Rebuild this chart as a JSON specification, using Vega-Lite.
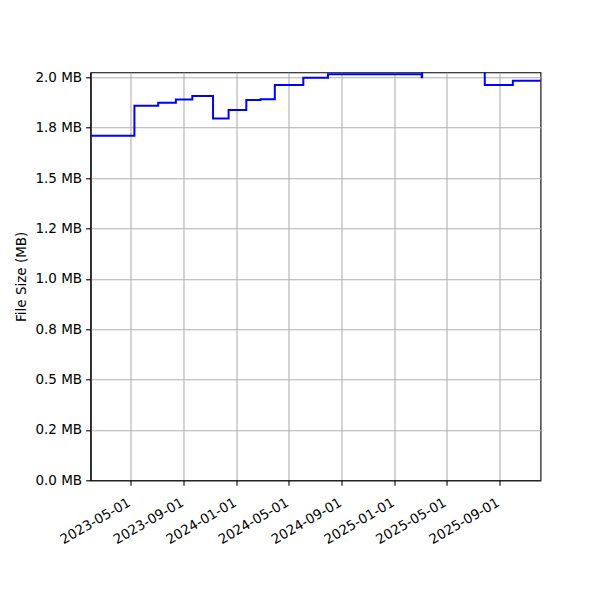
{
  "$schema": "https://vega.github.io/schema/vega-lite/v6.json",
  "autosize": {"type": "none"},
  "padding": {"left": 90.5, "top": 72.3, "right": 59.5, "bottom": 119.7},
  "width": 450,
  "height": 408,
  "background": "white",
  "config": {
    "view": {"stroke": "black", "strokeWidth": 1.1},
    "font": "DejaVu Sans",
    "axis": {
      "labelFont": "DejaVu Sans",
      "titleFont": "DejaVu Sans",
      "labelFontSize": 13.5,
      "titleFontSize": 13.5,
      "titleFontWeight": "normal",
      "labelColor": "black",
      "titleColor": "black",
      "tickColor": "black",
      "tickWidth": 1.1,
      "tickSize": 4.9,
      "labelPadding": 4,
      "domainColor": "black",
      "domainWidth": 1.1,
      "gridColor": "#b0b0b0",
      "gridWidth": 1.1,
      "gridOpacity": 1
    }
  },
  "data": {
    "values": [
      {"date": "2023-01-15", "size": 1.710},
      {"date": "2023-05-10", "size": 1.859},
      {"date": "2023-07-04", "size": 1.874},
      {"date": "2023-08-14", "size": 1.890},
      {"date": "2023-09-21", "size": 1.907},
      {"date": "2023-11-08", "size": 1.796},
      {"date": "2023-12-14", "size": 1.838},
      {"date": "2024-01-24", "size": 1.887},
      {"date": "2024-02-26", "size": 1.891},
      {"date": "2024-03-30", "size": 1.962},
      {"date": "2024-06-04", "size": 1.998},
      {"date": "2024-07-31", "size": 2.015},
      {"date": "2025-03-05", "size": 2.000},
      {"date": "2025-03-06", "size": 2.100},
      {"date": "2025-07-29", "size": 1.962},
      {"date": "2025-10-02", "size": 1.983},
      {"date": "2025-12-20", "size": 1.983}
    ]
  },
  "mark": {"type": "line", "interpolate": "step-after", "color": "#0000ff", "strokeWidth": 2, "clip": true},
  "encoding": {
    "x": {
      "field": "date",
      "type": "temporal",
      "scale": {
        "type": "utc",
        "domain": [
          {"year": 2023, "month": 1, "date": 28, "hours": 8, "utc": true},
          {"year": 2025, "month": 12, "date": 5, "utc": true}
        ]
      },
      "axis": {
        "title": null,
        "values": [
          {"year": 2023, "month": 5, "date": 1, "utc": true},
          {"year": 2023, "month": 9, "date": 1, "utc": true},
          {"year": 2024, "month": 1, "date": 1, "utc": true},
          {"year": 2024, "month": 5, "date": 1, "utc": true},
          {"year": 2024, "month": 9, "date": 1, "utc": true},
          {"year": 2025, "month": 1, "date": 1, "utc": true},
          {"year": 2025, "month": 5, "date": 1, "utc": true},
          {"year": 2025, "month": 9, "date": 1, "utc": true}
        ],
        "labelExpr": "utcFormat(datum.value, '%Y-%m-%d')",
        "labelAngle": -30,
        "labelAlign": "right",
        "labelBaseline": "top",
        "labelPadding": 10,
        "labelOffset": -5,
        "labelOverlap": false,
        "labelFlush": false
      }
    },
    "y": {
      "field": "size",
      "type": "quantitative",
      "scale": {"domain": [0, 2.025], "nice": false, "zero": false},
      "axis": {
        "title": "File Size (MB)",
        "titlePadding": 6,
        "values": [0, 0.25, 0.5, 0.75, 1.0, 1.25, 1.5, 1.75, 2.0],
        "labelExpr": "format((datum.value*4 % 2 == 1 ? (floor(datum.value*10) % 2 == 0 ? floor(datum.value*10) : floor(datum.value*10)+1) : round(datum.value*10))/10, '.1f') + ' MB'",
        "labelOverlap": false,
        "labelFlush": false
      }
    }
  }
}
